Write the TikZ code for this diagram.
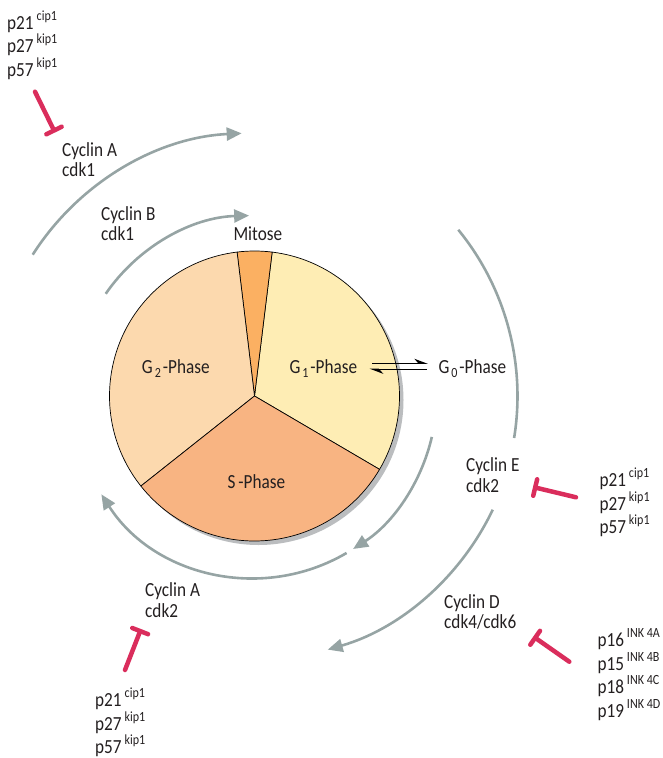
\documentclass[tikz,border=0pt]{standalone}
\usepackage{fontspec}
\setmainfont{Carlito}[FakeStretch=0.86]
\usetikzlibrary{arrows.meta,calc}
\definecolor{g1col}{RGB}{254,237,180}
\definecolor{mitcol}{RGB}{251,176,98}
\definecolor{g2col}{RGB}{252,217,174}
\definecolor{scol}{RGB}{248,180,130}
\definecolor{shadowgray}{RGB}{187,189,191}
\definecolor{arcgray}{RGB}{150,164,164}
\definecolor{inhred}{RGB}{218,45,92}
\definecolor{txt}{RGB}{35,31,32}
\newcommand\tl[1]{\begin{tabular}[t]{@{}l@{}}#1\end{tabular}}
\newcommand\supx[1]{\kern3pt\raisebox{9pt}[0pt][0pt]{\fontsize{14}{14}\selectfont #1}}
\newcommand\sbx[1]{\kern2pt\raisebox{-4pt}{\fontsize{14}{14}\selectfont #1}\kern2pt}
\begin{document}
\begin{tikzpicture}[x=1pt,y=1pt,
  lbl/.style={inner sep=0pt, anchor=base west, text=txt, font=\fontsize{20}{20.5}\selectfont},
  inh/.style={lbl, font=\fontsize{20}{23.5}\selectfont},
  cyc/.style={draw=arcgray, line width=2.6pt, -{Triangle[length=15pt,width=13pt]}},
  cycplain/.style={draw=arcgray, line width=2.6pt},
  block/.style={draw=inhred, line width=4.5pt, line cap=round, -{Bar[width=17pt,round]}},
  slice/.style={draw=black, line width=0.7pt, line join=round},
  harp/.style={draw=black, line width=1.2pt, -{Stealth[harpoon,length=12pt,width=9pt]}}]
\useasboundingbox (0,0) rectangle (663,-758);
\coordinate (C) at (254.5,-396);
% shadow and pie
\fill[shadowgray] ($(C)+(4,-4)$) circle[radius=145pt];
\filldraw[slice, fill=g1col] (C) -- ++(83:145pt) arc[start angle=83, end angle=-30.4, radius=145pt] -- cycle;
\filldraw[slice, fill=mitcol] (C) -- ++(96.9:145pt) arc[start angle=96.9, end angle=83, radius=145pt] -- cycle;
\filldraw[slice, fill=g2col] (C) -- ++(218.4:145pt) arc[start angle=218.4, end angle=96.9, radius=145pt] -- cycle;
\filldraw[slice, fill=scol] (C) -- ++(-30.4:145pt) arc[start angle=-30.4, end angle=-141.6, radius=145pt] -- cycle;
% cyclin arcs
\draw[cyc] ($(C)+(147.5:263pt)$) arc[start angle=147.5, end angle=92.8, radius=263pt];
\draw[cyc] ($(C)+(145.5:180.5pt)$) arc[start angle=145.5, end angle=91.7, radius=180.5pt];
\draw[cycplain] ($(C)+(39.2:263pt)$) arc[start angle=39.2, end angle=-9.2, radius=263pt];
\draw[cyc] ($(C)+(-25.5:264pt)$) arc[start angle=-25.5, end angle=-73.9, radius=264pt];
\draw[cyc] ($(C)+(-13:182pt)$) arc[start angle=-13, end angle=-57.2, radius=182pt];
\draw[cyc] ($(C)+(-59.6:182pt)$) arc[start angle=-59.6, end angle=-147.3, radius=182pt];
% labels
\node[inh] (inhTL) at (7,-29) {\tl{p21\supx{cip1}\\p27\supx{kip1}\\p57\supx{kip1}}};
\node[lbl] (cycA1) at (62,-156) {\tl{Cyclin A\\cdk1}};
\node[lbl] (cycB1) at (101,-220) {\tl{Cyclin B\\cdk1}};
\node[lbl] (mit) at (233.3,-240) {Mitose};
\node[lbl] (g2) at (141.7,-373.3) {G\sbx{2}-Phase};
\node[lbl] (g1) at (289.3,-373.3) {G\sbx{1}-Phase};
\node[lbl] (sph) at (227.3,-488.3) {S\kern3pt-Phase};
\node[lbl] (g0) at (438.3,-373.3) {G\sbx{0}-Phase};
\node[lbl] (cycE) at (466,-471.7) {\tl{Cyclin E\\cdk2}};
\node[inh] (inhE) at (599.3,-486.7) {\tl{p21\supx{cip1}\\p27\supx{kip1}\\p57\supx{kip1}}};
\node[lbl] (cycD) at (444,-608.3) {\tl{Cyclin D\\cdk4/cdk6}};
\node[inh] (inhD) at (597.3,-646.7) {\tl{p16\supx{INK 4A}\\p15\supx{INK 4B}\\p18\supx{INK 4C}\\p19\supx{INK 4D}}};
\node[lbl] (cycA2) at (145,-596.7) {\tl{Cyclin A\\cdk2}};
\node[inh] (inhBL) at (95,-706.7) {\tl{p21\supx{cip1}\\p27\supx{kip1}\\p57\supx{kip1}}};
% G1 <-> G0
\draw[harp] ($(g1.base east)+(15,10)$) -- ($(g0.base west)+(-10.3,10)$);
\draw[harp] ($(g0.base west)+(-11.3,4)$) -- ($(g1.base east)+(12.3,4)$);
% inhibitions
\coordinate (tlA) at (35,-91.7); \coordinate (tlB) at (55,-132.5);
\coordinate (eA) at (576,-497.3); \coordinate (eB) at (533,-487);
\coordinate (dA) at (569.3,-661.7); \coordinate (dB) at (533.3,-636.5);
\coordinate (blA) at (125,-670); \coordinate (blB) at (141,-629);
\draw[block] (tlA) -- (tlB);
\draw[block] (eA) -- (eB);
\draw[block] (dA) -- (dB);
\draw[block] (blA) -- (blB);
\end{tikzpicture}
\end{document}
